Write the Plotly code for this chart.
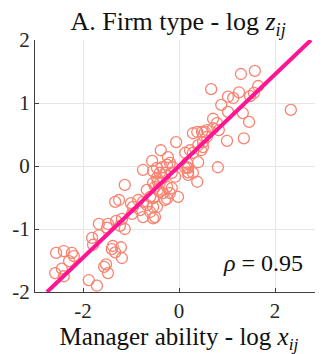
import plotly.graph_objects as go

# Scatter data: manager ability (log x_ij) vs firm type (log z_ij)
manager_ability = [
    -2.56, -2.40, -2.23, -2.19, -2.29, -2.44, -2.58, -2.40, -1.88, -1.71,
    -1.52, -1.48, -1.56, -1.40, -1.33, -1.21, -1.19, -1.38, -1.81, -1.67,
    -1.79, -1.67, -1.50, -1.48, -1.31, -1.19, -1.13, -1.23, -0.98, -1.00,
    -1.33, -1.25, -1.13, -0.96, -0.85, -0.81, -0.75,
    -0.75, -0.56, -0.38, -0.06, -0.23, -0.54, -0.25, -0.02, -0.67, -0.54,
    -0.46, -0.35, -0.25, -0.19, -0.13, -0.08, -0.33, -0.44, -0.50, -0.25,
    -0.15, -0.40, -0.60, -0.29, -0.54, 0.23, 0.29, 0.19, 0.38, 0.17,
    -0.40, -0.29, -0.15, 0.29, 0.19, -0.46, -0.54, -0.40, -0.44, -0.33,
    -0.19, -0.54, -0.67, -0.46, -0.60, -0.75, -0.50,
    2.33, 0.88, 1.02, 1.33, 1.46, 1.35, 1.00, 0.81, 0.71, 0.79,
    0.38, 0.48, 0.54, 0.50, 0.40, 0.17, 0.19, 1.29, 1.58, 1.65,
    0.67, 1.02, 1.13, 1.25, 1.48, 1.56, 0.83, 0.50, 0.40, 0.13,
    0.46, 0.13, 0.71, 0.58, 0.58, 0.29,
]
firm_type = [
    -1.38, -1.35, -1.38, -1.43, -1.51, -1.63, -1.70, -1.75, -1.81, -1.90,
    -1.56, -1.70, -1.60, -1.32, -1.37, -1.29, -1.46, -1.27, -1.14, -1.10,
    -1.25, -0.92, -0.98, -0.92, -0.87, -0.84, -1.00, -0.95, -0.76, -0.59,
    -0.57, -0.54, -0.30, -0.65, -0.54, -0.70, -0.57,
    -0.06, 0.08, 0.25, 0.38, 0.14, -0.83, -0.52, -0.49, -0.38, -0.08,
    -0.03, -0.02, 0.02, 0.05, -0.02, -0.17, -0.19, -0.25, -0.33, -0.33,
    -0.35, -0.41, -0.49, -0.54, -0.65, 0.25, 0.52, -0.03, -0.25, 0.05,
    -0.11, -0.11, -0.11, -0.11, -0.14, -0.19, -0.27, -0.27, -0.38, -0.43,
    -0.43, -0.51, -0.62, -0.65, -0.73, -0.81, -0.81,
    0.89, 0.97, 0.86, 0.84, 0.70, 0.44, 0.40, -0.02, 0.75, 0.68,
    0.54, 0.54, 0.54, 0.30, 0.06, -0.02, -0.10, 1.46, 1.51, 1.27,
    1.22, 1.10, 1.08, 1.17, 1.11, 1.16, 0.57, 0.38, 0.33, 0.21,
    0.25, -0.03, 0.60, 0.57, 0.46, 0.21,
]

# Fitted line endpoints
fit_x = [-2.75, 2.75]
fit_y = [-2.0, 2.0]

tick_vals_x = [-2, 0, 2]
tick_text_x = ["-2", "0", "2"]
tick_vals_y = [-2, -1, 0, 1, 2]
tick_text_y = ["-2", "-1", "0", "1", "2"]

FONT = "Liberation Serif"

fig = go.Figure()
fig.add_trace(go.Scatter(
    x=manager_ability, y=firm_type, mode="markers",
    marker=dict(symbol="circle-open", size=11, color="#F88370",
                line=dict(width=1.3, color="#F88370")),
    showlegend=False, hoverinfo="skip",
))
fig.add_trace(go.Scatter(
    x=fit_x, y=fit_y, mode="lines",
    line=dict(color="#FF1493", width=4),
    showlegend=False, hoverinfo="skip",
))

fig.add_annotation(
    x=2.62, y=-1.54, xref="x", yref="y", xanchor="right", yanchor="middle",
    text="<i>ρ</i> = 0.95", showarrow=False,
    font=dict(family=FONT, size=24, color="#111111"),
)

fig.update_layout(
    width=315, height=346,
    margin=dict(l=27, r=0, t=32, b=62, autoexpand=False),
    paper_bgcolor="white", plot_bgcolor="white",
    title=dict(
        text="A. Firm type - log <i>z</i><sub><i>ij</i></sub>",
        x=0.54, xanchor="center", y=0.962, yanchor="middle",
        font=dict(family=FONT, size=26, color="#111111"),
    ),
    font=dict(family=FONT, size=21, color="#262626"),
)
fig.update_xaxes(
    range=[-3, 3], tickvals=tick_vals_x, ticktext=tick_text_x,
    showgrid=True, gridcolor="#E6E6E6", gridwidth=1, zeroline=False,
    showline=True, linecolor="#404040", linewidth=1.2,
    ticks="inside", ticklen=4, tickcolor="#404040", automargin=False,
    tickfont=dict(family=FONT, size=21, color="#262626"),
    title=dict(text="Manager ability - log <i>x</i><sub><i>ij</i></sub>",
               font=dict(family=FONT, size=25, color="#111111"), standoff=6),
)
fig.update_yaxes(
    range=[-2, 2], tickvals=tick_vals_y, ticktext=tick_text_y,
    showgrid=True, gridcolor="#E6E6E6", gridwidth=1, zeroline=False,
    showline=True, linecolor="#404040", linewidth=1.2,
    ticks="inside", ticklen=4, tickcolor="#404040", automargin=False,
    tickfont=dict(family=FONT, size=21, color="#262626"),
)

fig.write_html("out.html")
